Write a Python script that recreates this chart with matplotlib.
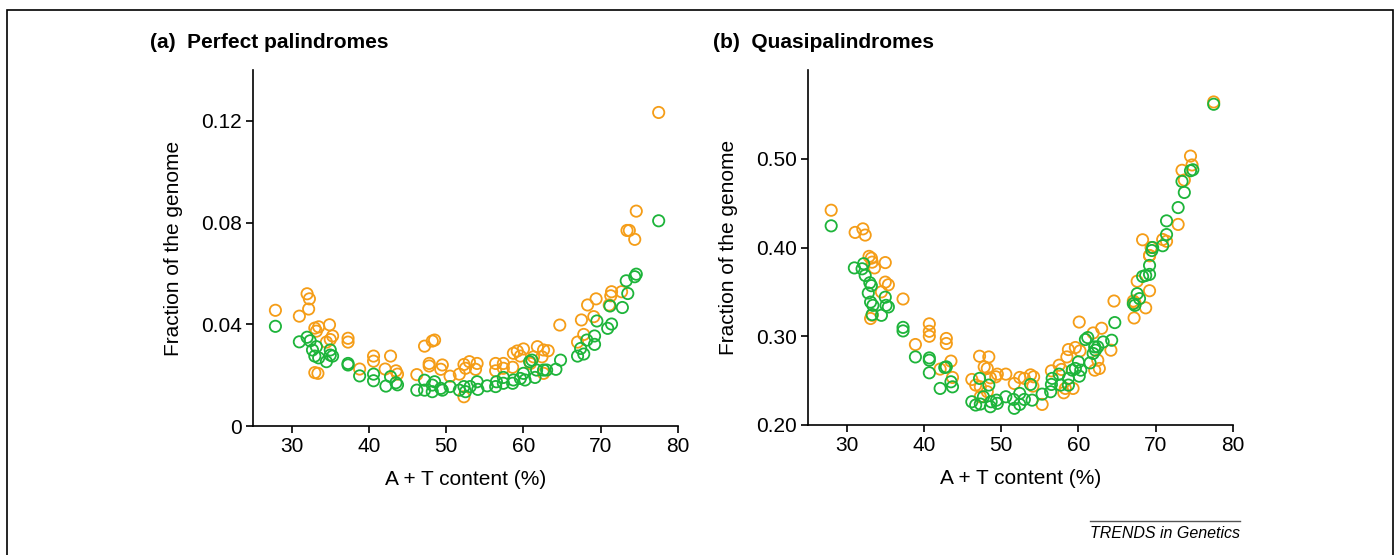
import matplotlib.pyplot as plt
from matplotlib.patches import Rectangle
from matplotlib.lines import Line2D

plt.rcParams['font.family'] = ['Liberation Sans', 'DejaVu Sans']

orange = "#F59D17"
green = "#1DB43A"

# (a) perfect palindromes, orange series
pal_orange_at = [27.9, 31.0, 32.0, 32.3, 32.2, 33.0, 33.5, 33.2, 34.9, 35.3, 35.0, 34.5, 33.0, 33.4,
                 37.3, 37.3, 38.8, 40.6, 40.6, 42.8, 42.1, 43.5, 43.7, 46.2, 47.2, 48.2, 48.5, 47.8,
                 47.8, 49.5, 49.3, 50.5, 51.7, 52.3, 53.0, 52.5, 53.8, 54.0, 52.3, 56.4, 57.4, 57.4,
                 56.4, 58.6, 58.7, 59.6, 60.0, 59.2, 61.8, 62.6, 63.2, 62.4, 61.3, 60.9, 62.6, 64.7,
                 67.5, 68.3, 69.4, 69.1, 67.0, 67.8, 71.1, 71.3, 71.4, 72.7, 77.5, 74.6, 73.4, 73.7,
                 74.4]
pal_orange_frac = [0.0455, 0.0432, 0.0520, 0.0500, 0.0460, 0.0385, 0.0390, 0.0373, 0.0398, 0.0354,
                   0.0340, 0.0330, 0.0210, 0.0207, 0.0345, 0.0330, 0.0224, 0.0275, 0.0255, 0.0275,
                   0.0224, 0.0217, 0.0204, 0.0202, 0.0314, 0.0334, 0.0338, 0.0246, 0.0236, 0.0240,
                   0.0223, 0.0196, 0.0204, 0.0242, 0.0253, 0.0227, 0.0223, 0.0246, 0.0115, 0.0246,
                   0.0246, 0.0227, 0.0217, 0.0231, 0.0286, 0.0275, 0.0303, 0.0295, 0.0312, 0.0299,
                   0.0296, 0.0272, 0.0272, 0.0246, 0.0207, 0.0397, 0.0417, 0.0476, 0.0500, 0.0430,
                   0.0330, 0.0360, 0.0476, 0.0512, 0.0528, 0.0528, 0.1233, 0.0845, 0.0769, 0.0769,
                   0.0734]

# (a) perfect palindromes, green series
pal_green_at = [27.9, 31.0, 32.0, 32.4, 32.7, 33.0, 33.5, 33.2, 34.5, 35.0, 35.0, 35.3, 37.3, 37.3,
                38.8, 40.6, 40.6, 42.8, 42.2, 43.5, 43.7, 46.2, 47.2, 47.2, 48.2, 48.5, 48.2, 49.3,
                49.5, 50.5, 51.7, 52.3, 52.5, 53.1, 54.0, 54.1, 55.3, 56.4, 56.5, 57.4, 57.4, 58.6,
                58.7, 59.6, 60.0, 60.2, 61.5, 61.7, 62.6, 63.0, 64.2, 64.8, 60.8, 61.1, 67.0, 67.4,
                67.8, 68.2, 69.2, 69.2, 69.5, 70.9, 71.4, 71.2, 72.8, 73.5, 73.3, 74.4, 74.6, 77.5]
pal_green_frac = [0.0392, 0.0331, 0.0349, 0.0335, 0.0299, 0.0275, 0.0268, 0.0312, 0.0253, 0.0299,
                  0.0279, 0.0275, 0.0246, 0.0240, 0.0197, 0.0204, 0.0178, 0.0194, 0.0157, 0.0170,
                  0.0162, 0.0141, 0.0141, 0.0180, 0.0161, 0.0174, 0.0135, 0.0148, 0.0141, 0.0155,
                  0.0141, 0.0155, 0.0135, 0.0155, 0.0174, 0.0144, 0.0158, 0.0155, 0.0174, 0.0191,
                  0.0168, 0.0168, 0.0181, 0.0187, 0.0207, 0.0181, 0.0191, 0.0220, 0.0220, 0.0220,
                  0.0223, 0.0259, 0.0253, 0.0259, 0.0275, 0.0305, 0.0283, 0.0338, 0.0354, 0.0321,
                  0.0413, 0.0384, 0.0401, 0.0472, 0.0466, 0.0521, 0.0571, 0.0587, 0.0597, 0.0807]

# (b) quasipalindromes, orange series
quasi_orange_at = [28.0, 31.1, 32.1, 32.4, 32.9, 33.2, 33.3, 33.6, 35.0, 35.0, 35.4, 34.5, 33.1, 33.3,
                   37.3, 38.9, 40.7, 40.7, 40.7, 42.9, 42.9, 43.5, 42.1, 43.7, 46.2, 46.7, 47.2, 48.4,
                   47.8, 48.2, 48.6, 48.2, 49.5, 50.6, 49.3, 47.3, 47.3, 51.7, 52.4, 53.0, 53.8, 54.2,
                   54.1, 55.3, 56.5, 57.5, 57.8, 58.1, 58.3, 59.3, 58.5, 58.7, 59.6, 60.2, 60.1, 61.9,
                   63.0, 62.1, 62.7, 62.5, 64.2, 64.6, 67.2, 67.1, 67.3, 67.6, 68.7, 69.2, 69.2, 68.3,
                   69.2, 69.4, 70.9, 71.4, 72.9, 73.4, 73.7, 74.5, 74.7, 77.5]
quasi_orange_frac = [0.442, 0.417, 0.421, 0.414, 0.390, 0.388, 0.3835, 0.377, 0.383, 0.361,
                     0.358, 0.350, 0.320, 0.3236, 0.342, 0.2907, 0.314, 0.3056, 0.300, 0.2975,
                     0.2918, 0.272, 0.263, 0.2536, 0.2513, 0.245, 0.2775, 0.2767, 0.2655, 0.2637,
                     0.2532, 0.2375, 0.2573, 0.2573, 0.2543, 0.243, 0.2318, 0.2468, 0.2536, 0.2525,
                     0.2565, 0.2543, 0.2438, 0.2232, 0.261, 0.2674, 0.2626, 0.2363, 0.2412, 0.2412,
                     0.2767, 0.285, 0.2873, 0.2835, 0.316, 0.3037, 0.309, 0.2618, 0.2637, 0.273,
                     0.2843, 0.3397, 0.3206, 0.3397, 0.338, 0.362, 0.332, 0.3513, 0.3907, 0.4087,
                     0.391, 0.400, 0.409, 0.407, 0.426, 0.487, 0.476, 0.503, 0.493, 0.564]

# (b) quasipalindromes, green series
quasi_green_at = [28.0, 31.0, 32.2, 32.0, 32.4, 33.0, 33.2, 32.8, 33.1, 33.4, 33.3, 34.5, 35.0, 35.1,
                  35.4, 37.3, 37.3, 38.9, 40.7, 40.7, 40.7, 42.9, 42.7, 42.1, 43.5, 43.7, 46.2, 46.7,
                  47.2, 47.3, 47.7, 48.4, 48.6, 48.7, 49.4, 49.5, 50.6, 51.6, 51.7, 52.4, 53.0, 52.4,
                  53.8, 54.0, 55.3, 56.4, 56.5, 56.6, 57.5, 57.7, 58.7, 58.7, 59.2, 59.6, 60.1, 60.0,
                  60.3, 60.9, 61.2, 62.1, 62.5, 61.5, 62.2, 63.2, 64.3, 64.7, 61.9, 67.1, 67.3, 67.6,
                  67.9, 68.3, 68.7, 69.2, 69.2, 69.5, 69.6, 70.9, 71.4, 71.4, 72.9, 73.7, 73.4, 74.5,
                  74.8, 77.5]
quasi_green_frac = [0.4244, 0.377, 0.3817, 0.376, 0.3685, 0.3603, 0.357, 0.3487, 0.3385, 0.3348,
                    0.3244, 0.3236, 0.344, 0.3348, 0.333, 0.310, 0.306, 0.2767, 0.2756, 0.273,
                    0.2588, 0.2655, 0.2648, 0.2412, 0.2487, 0.243, 0.2262, 0.2225, 0.2525, 0.2236,
                    0.2318, 0.245, 0.2206, 0.2262, 0.228, 0.2244, 0.2318, 0.2288, 0.2188, 0.2232,
                    0.2288, 0.2356, 0.2457, 0.228, 0.2348, 0.2375, 0.2457, 0.2525, 0.2573, 0.245,
                    0.245, 0.2525, 0.2618, 0.2637, 0.255, 0.2711, 0.2618, 0.2963, 0.2985, 0.288,
                    0.288, 0.270, 0.2843, 0.2936, 0.2955, 0.3154, 0.2806, 0.3367, 0.3348, 0.348,
                    0.3424, 0.3674, 0.3685, 0.3697, 0.3798, 0.3966, 0.400, 0.402, 0.4146, 0.430,
                    0.445, 0.462, 0.4745, 0.4865, 0.4876, 0.5614]

x_ticks = [30, 40, 50, 60, 70, 80]

fig = plt.figure(figsize=(13.96, 5.55), dpi=100)

# outer frame (bottom edge runs off the picture)
fig.patches.append(Rectangle((7 / 1396, -0.05), 1386 / 1396, 1.05 - 10 / 555,
                             transform=fig.transFigure, fill=False, ec="black", lw=1.2))

ax_a = fig.add_axes([253 / 1396, 1 - 426 / 555, 425 / 1396, 356 / 555])
ax_b = fig.add_axes([808 / 1396, 1 - 425 / 555, 425 / 1396, 355 / 555])


def style(ax, ylim, yticks, ylabels):
    ax.spines['top'].set_visible(False)
    ax.spines['right'].set_visible(False)
    for s in ('left', 'bottom'):
        ax.spines[s].set_linewidth(1.2)
    ax.set_xlim(25, 80)
    ax.set_ylim(*ylim)
    ax.set_xticks(x_ticks)
    ax.set_yticks(yticks)
    ax.set_yticklabels(ylabels)
    ax.tick_params(direction='out', length=5, width=1.2, labelsize=15, pad=3)
    ax.set_xlabel("A + T content (%)", fontsize=15, labelpad=10)
    ax.set_ylabel("Fraction of the genome", fontsize=15, labelpad=13)


def scatter(ax, x, y, color):
    ax.scatter(x, y, s=66, facecolors='none', edgecolors=color, linewidths=1.3, clip_on=False)


scatter(ax_a, pal_orange_at, pal_orange_frac, orange)
scatter(ax_a, pal_green_at, pal_green_frac, green)
style(ax_a, (0, 0.14), [0, 0.04, 0.08, 0.12], ["0", "0.04", "0.08", "0.12"])

scatter(ax_b, quasi_orange_at, quasi_orange_frac, orange)
scatter(ax_b, quasi_green_at, quasi_green_frac, green)
style(ax_b, (0.2, 0.6), [0.2, 0.3, 0.4, 0.5], ["0.20", "0.30", "0.40", "0.50"])

fig.text(150 / 1396, 1 - 42 / 555, "(a)  Perfect palindromes", fontsize=15, fontweight='bold',
         va='center', ha='left')
fig.text(713 / 1396, 1 - 42 / 555, "(b)  Quasipalindromes", fontsize=15, fontweight='bold',
         va='center', ha='left')

# journal footer
fig.lines.append(Line2D([1090 / 1396, 1240 / 1396], [1 - 521 / 555, 1 - 521 / 555],
                        transform=fig.transFigure, color="#555555", lw=1))
fig.text(1240 / 1396, 1 - 533 / 555, "TRENDS in Genetics", fontsize=11.5, style='italic',
         ha='right', va='center')

fig.savefig("out.png", dpi=100)
